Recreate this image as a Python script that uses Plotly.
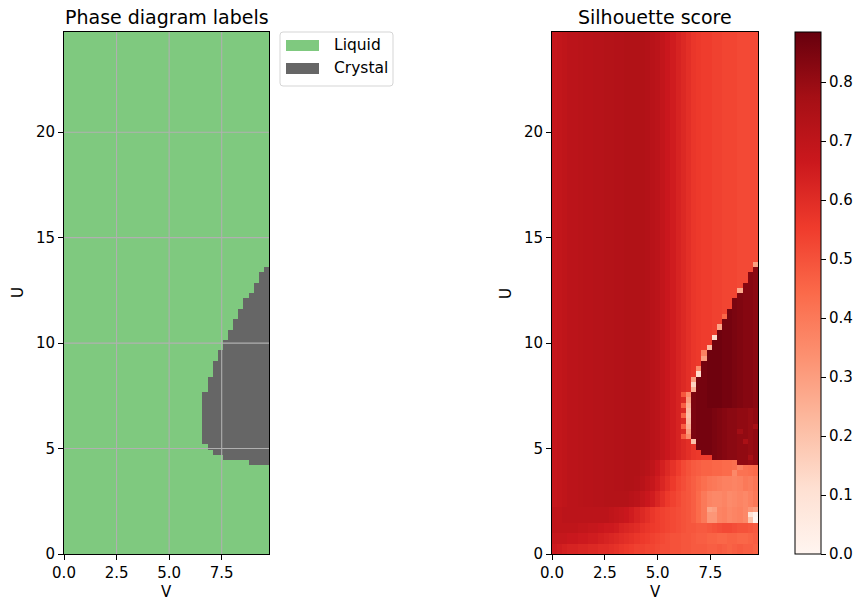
import numpy as np
import plotly.graph_objects as go

# ---------------- grid of the phase diagram ----------------
V_MAX = 9.75
U_MAX = 24.75
N_V = 40
N_U = 100
dv = V_MAX / N_V
du = U_MAX / N_U
V = (np.arange(N_V) + 0.5) * dv
U = (np.arange(N_U) + 0.5) * du

# ---------------- phase labels (crystal region per V column) ----------------
crystal_V = [6.70, 6.95, 7.19, 7.43, 7.68, 7.92, 8.17, 8.41, 8.65, 8.90, 9.14, 9.38, 9.63]
crystal_U_low = [5.2, 4.98, 4.7, 4.7, 4.45, 4.45, 4.45, 4.45, 4.45, 4.2, 4.2, 4.2, 4.2]
crystal_U_high = [7.6, 8.4, 9.15, 9.65, 10.1, 10.6, 11.1, 11.6, 12.1, 12.35, 12.85, 13.35, 13.6]
phase_names = ["Liquid", "Crystal"]
phase_colors = ["#7fc97f", "#666666"]

# ---------------- silhouette score ----------------
# liquid, upper part (U > 4.5), per V column
sil_upper = [0.68, 0.69, 0.70, 0.71, 0.71, 0.715, 0.72, 0.72, 0.725, 0.725,
             0.73, 0.73, 0.735, 0.735, 0.74, 0.74, 0.74, 0.74, 0.735, 0.72,
             0.71, 0.69, 0.67, 0.65, 0.63, 0.61, 0.59, 0.57, 0.56, 0.55,
             0.55, 0.54, 0.54, 0.53, 0.53, 0.53, 0.52, 0.52, 0.52, 0.52]
# low-U bands: [lower U, upper U) and per-column values
band_U_edges = [0.0, 0.5, 1.0, 1.5, 2.25, 3.0, 3.75, 4.5]
sil_U_0_05 = [0.66, 0.65, 0.64, 0.63, 0.63, 0.62, 0.62, 0.61, 0.61, 0.60,
              0.60, 0.59, 0.58, 0.57, 0.56, 0.55, 0.54, 0.54, 0.53, 0.53,
              0.52, 0.51, 0.51, 0.50, 0.50, 0.49, 0.49, 0.48, 0.48, 0.48,
              0.47, 0.47, 0.48, 0.47, 0.46, 0.47, 0.48, 0.47, 0.47, 0.46]
sil_U_05_10 = [0.68, 0.68, 0.68, 0.67, 0.67, 0.66, 0.66, 0.65, 0.65, 0.64,
               0.63, 0.62, 0.61, 0.60, 0.59, 0.58, 0.57, 0.56, 0.55, 0.54,
               0.53, 0.52, 0.51, 0.50, 0.50, 0.49, 0.49, 0.48, 0.47, 0.47,
               0.46, 0.46, 0.45, 0.45, 0.46, 0.46, 0.45, 0.45, 0.46, 0.47]
sil_U_10_15 = [0.70, 0.70, 0.70, 0.70, 0.70, 0.69, 0.69, 0.68, 0.68, 0.67,
               0.66, 0.66, 0.65, 0.63, 0.62, 0.61, 0.60, 0.58, 0.57, 0.56,
               0.55, 0.54, 0.53, 0.52, 0.51, 0.50, 0.49, 0.49, 0.48, 0.48,
               0.49, 0.50, 0.51, 0.52, 0.52, 0.51, 0.50, 0.50, 0.49, 0.48]
sil_U_15_225 = [0.70, 0.70, 0.71, 0.71, 0.71, 0.71, 0.71, 0.71, 0.71, 0.71,
                0.71, 0.70, 0.69, 0.68, 0.67, 0.65, 0.63, 0.61, 0.59, 0.57,
                0.55, 0.54, 0.53, 0.52, 0.51, 0.50, 0.49, 0.47, 0.44, 0.40,
                0.32, 0.32, 0.37, 0.38, 0.36, 0.37, 0.38, 0.36, 0.32, 0.30]
sil_U_225_30 = [0.68, 0.69, 0.70, 0.71, 0.71, 0.715, 0.72, 0.72, 0.725, 0.725,
                0.73, 0.73, 0.73, 0.73, 0.73, 0.72, 0.71, 0.69, 0.67, 0.65,
                0.62, 0.59, 0.56, 0.54, 0.52, 0.50, 0.49, 0.47, 0.44, 0.40,
                0.37, 0.36, 0.36, 0.37, 0.35, 0.36, 0.37, 0.36, 0.38, 0.40]
sil_U_30_375 = [0.68, 0.69, 0.70, 0.71, 0.71, 0.715, 0.72, 0.72, 0.725, 0.725,
                0.73, 0.73, 0.735, 0.735, 0.74, 0.74, 0.735, 0.72, 0.70, 0.68,
                0.65, 0.62, 0.59, 0.56, 0.53, 0.51, 0.49, 0.47, 0.45, 0.43,
                0.41, 0.40, 0.39, 0.38, 0.38, 0.37, 0.38, 0.40, 0.39, 0.41]
sil_U_375_45 = [0.68, 0.69, 0.70, 0.71, 0.71, 0.715, 0.72, 0.72, 0.725, 0.725,
                0.73, 0.73, 0.735, 0.735, 0.74, 0.74, 0.74, 0.73, 0.72, 0.70,
                0.67, 0.64, 0.61, 0.58, 0.55, 0.52, 0.50, 0.48, 0.47, 0.46,
                0.46, 0.45, 0.45, 0.44, 0.44, 0.43, 0.42, 0.42, 0.43, 0.44]
sil_bands = [sil_U_0_05, sil_U_05_10, sil_U_10_15, sil_U_15_225,
             sil_U_225_30, sil_U_30_375, sil_U_375_45]
# crystal interior, per crystal column (U < 7 and U >= 7)
crystal_sil_low = [0.85, 0.86, 0.86, 0.86, 0.85, 0.84, 0.83, 0.82, 0.82, 0.81, 0.81, 0.80, 0.81]
crystal_sil_high = [0.85, 0.86, 0.86, 0.87, 0.87, 0.87, 0.86, 0.86, 0.85, 0.84, 0.83, 0.83, 0.82]
# individual cells (V, U, score): light rim around the crystal and outliers
special_cells = [
    (9.63, 13.74, 0.30), (8.90, 12.50, 0.27), (8.17, 11.26, 0.45), (7.92, 10.77, 0.28),
    (7.68, 10.27, 0.12), (7.43, 9.78, 0.22), (7.19, 9.28, 0.30), (7.19, 9.53, 0.38),
    (6.95, 8.54, 0.12), (6.95, 8.79, 0.35), (6.70, 7.80, 0.25), (6.70, 8.04, 0.15),
    (6.70, 8.29, 0.30), (6.70, 5.32, 0.20),
    (6.46, 5.57, 0.35), (6.46, 5.82, 0.30), (6.46, 6.06, 0.25), (6.46, 6.31, 0.22),
    (6.46, 6.56, 0.20), (6.46, 6.81, 0.22), (6.46, 7.06, 0.25), (6.46, 7.30, 0.30),
    (6.46, 7.55, 0.35),
    (6.22, 5.57, 0.48), (6.22, 6.06, 0.47), (6.22, 6.56, 0.46), (6.22, 7.06, 0.47),
    (6.22, 7.55, 0.49),
    (9.63, 1.61, 0.00), (9.63, 1.86, 0.02), (9.38, 1.61, 0.20), (9.38, 1.86, 0.10),
    (7.43, 2.10, 0.28), (7.68, 2.10, 0.30), (8.65, 3.80, 0.36), (8.90, 4.05, 0.38),
    (9.14, 5.32, 0.76), (9.63, 6.06, 0.77), (8.90, 5.82, 0.78), (9.38, 4.58, 0.77),
]

# ---------------- build matrices ----------------
labels = np.zeros((N_U, N_V))
sil = np.zeros((N_U, N_V))
for i in range(N_U):
    u = U[i]
    row_vals = sil_upper
    for b in range(len(sil_bands)):
        if band_U_edges[b] <= u < band_U_edges[b + 1]:
            row_vals = sil_bands[b]
    sil[i, :] = row_vals
for k, v in enumerate(crystal_V):
    j = int(v / dv)
    for i in range(N_U):
        if crystal_U_low[k] <= U[i] <= crystal_U_high[k]:
            labels[i, j] = 1
            sil[i, j] = crystal_sil_low[k] if U[i] < 7 else crystal_sil_high[k]
for v, u, s in special_cells:
    sil[int(u / du), int(v / dv)] = s

reds = [[0.0, "#fff5f0"], [0.125, "#fee0d2"], [0.25, "#fcbba1"], [0.375, "#fc9272"],
        [0.5, "#fb6a4a"], [0.625, "#ef3b2c"], [0.75, "#cb181d"], [0.875, "#a50f15"],
        [1.0, "#67000d"]]
SIL_MIN, SIL_MAX = 0.0, 0.885

W, H = 860, 606
def fx(p):
    return p / W
def fy(p):
    return 1 - p / H

FONT = "DejaVu Sans"
fig = go.Figure()
fig.add_trace(go.Heatmap(
    x=V, y=U, z=labels, zmin=0, zmax=1,
    colorscale=[[0, phase_colors[0]], [0.5, phase_colors[0]], [0.5, phase_colors[1]], [1, phase_colors[1]]],
    showscale=False, xaxis="x", yaxis="y", hoverinfo="skip"))
fig.add_trace(go.Heatmap(
    x=V, y=U, z=sil, zmin=SIL_MIN, zmax=SIL_MAX, colorscale=reds,
    xaxis="x2", yaxis="y2",
    colorbar=dict(x=fx(795), xanchor="left", y=fy(554), yanchor="bottom",
                  len=522 / H, lenmode="fraction", thickness=26,
                  outlinewidth=1, outlinecolor="black", xpad=0, ypad=0,
                  tickvals=[0, 0.1, 0.2, 0.3, 0.4, 0.5, 0.6, 0.7, 0.8],
                  ticktext=["0.0", "0.1", "0.2", "0.3", "0.4", "0.5", "0.6", "0.7", "0.8"],
                  ticks="outside", ticklen=5, tickwidth=1, tickcolor="black",
                  tickfont=dict(family=FONT, size=15, color="black"))))

xticks = [0, 2.5, 5, 7.5]
yticks = [0, 5, 10, 15, 20]
axis_common = dict(showline=True, mirror=True, linecolor="black", linewidth=1,
                   ticks="outside", ticklen=5, tickwidth=1, tickcolor="black",
                   showgrid=False, zeroline=False, automargin=False,
                   tickfont=dict(family=FONT, size=15, color="black"))
fig.update_layout(
    width=W, height=H, margin=dict(l=0, r=0, t=0, b=0, autoexpand=False),
    paper_bgcolor="white", plot_bgcolor="white", showlegend=False,
    xaxis=dict(domain=[fx(64), fx(269)], range=[0, V_MAX], anchor="y",
               tickvals=xticks, ticktext=["0.0", "2.5", "5.0", "7.5"], **axis_common),
    yaxis=dict(domain=[fy(554), fy(32)], range=[0, U_MAX], anchor="x",
               tickvals=yticks, ticktext=[str(t) for t in yticks], **axis_common),
    xaxis2=dict(domain=[fx(552), fx(758)], range=[0, V_MAX], anchor="y2",
                tickvals=xticks, ticktext=["0.0", "2.5", "5.0", "7.5"], **axis_common),
    yaxis2=dict(domain=[fy(554), fy(32)], range=[0, U_MAX], anchor="x2",
                tickvals=yticks, ticktext=[str(t) for t in yticks], **axis_common),
)

shapes = []
for t in xticks[1:]:
    shapes.append(dict(type="line", xref="x", yref="y", x0=t, x1=t, y0=0, y1=U_MAX,
                       line=dict(color="#b0b0b0", width=1.1), layer="above"))
for t in yticks[1:]:
    shapes.append(dict(type="line", xref="x", yref="y", x0=0, x1=V_MAX, y0=t, y1=t,
                       line=dict(color="#b0b0b0", width=1.1), layer="above"))
# legend frame
L, R, T, B, r = 280, 393, 32, 86, 3
path = (f"M {fx(L + r)},{fy(T)} L {fx(R - r)},{fy(T)} Q {fx(R)},{fy(T)} {fx(R)},{fy(T + r)} "
        f"L {fx(R)},{fy(B - r)} Q {fx(R)},{fy(B)} {fx(R - r)},{fy(B)} "
        f"L {fx(L + r)},{fy(B)} Q {fx(L)},{fy(B)} {fx(L)},{fy(B - r)} "
        f"L {fx(L)},{fy(T + r)} Q {fx(L)},{fy(T)} {fx(L + r)},{fy(T)} Z")
shapes.append(dict(type="path", xref="paper", yref="paper", path=path,
                   line=dict(color="#d5d5d5", width=1), fillcolor="rgba(255,255,255,0.8)"))
annotations = []
for n, (name, col) in enumerate(zip(phase_names, phase_colors)):
    yc = 45.5 + 23 * n
    shapes.append(dict(type="rect", xref="paper", yref="paper",
                       x0=fx(286), x1=fx(319), y0=fy(yc - 5.5), y1=fy(yc + 5.5),
                       line=dict(width=0), fillcolor=col))
    annotations.append(dict(text=name, xref="paper", yref="paper", x=fx(332), y=fy(yc),
                            xanchor="left", yanchor="middle", showarrow=False,
                            font=dict(family=FONT, size=15.5, color="black")))

for title, cx in [("Phase diagram labels", 166.5), ("Silhouette score", 655)]:
    annotations.append(dict(text=title, xref="paper", yref="paper", x=fx(cx), y=fy(17),
                            xanchor="center", yanchor="middle", showarrow=False,
                            font=dict(family=FONT, size=19, color="black")))
for cx in [166.5, 655]:
    annotations.append(dict(text="V", xref="paper", yref="paper", x=fx(cx), y=fy(592),
                            xanchor="center", yanchor="middle", showarrow=False,
                            font=dict(family=FONT, size=15, color="black")))
for cx in [18, 506]:
    annotations.append(dict(text="U", xref="paper", yref="paper", x=fx(cx), y=fy(293),
                            xanchor="center", yanchor="middle", showarrow=False, textangle=-90,
                            font=dict(family=FONT, size=15, color="black")))

fig.update_layout(shapes=shapes, annotations=annotations)
fig.write_html("out.html")
